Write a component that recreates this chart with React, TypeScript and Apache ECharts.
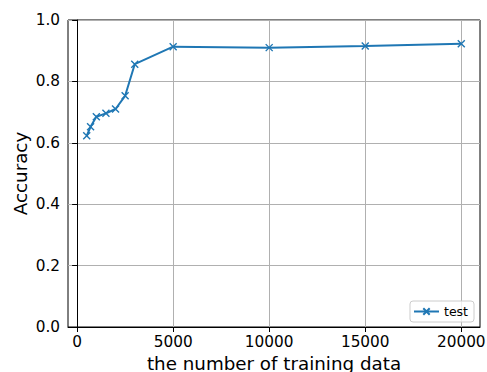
import React, { useEffect, useRef } from "react";
import * as echarts from "echarts";

const trainSizes = [500, 700, 1000, 1500, 2000, 2500, 3000, 5000, 10000, 15000, 20000];
const testAccuracy = [0.623, 0.652, 0.685, 0.696, 0.71, 0.753, 0.856, 0.913, 0.91, 0.915, 0.923];
const xTicks = [0, 5000, 10000, 15000, 20000];

const FONT = "DejaVu Sans";
const X_MARK = "path://M0,0 L10,10 M10,0 L0,10";

export default function App() {
  const ref = useRef<HTMLDivElement>(null);
  useEffect(() => {
    if (!ref.current) return;
    const chart = echarts.init(ref.current, null, { renderer: "svg" });
    chart.setOption({
      animation: false,
      backgroundColor: "#ffffff",
      textStyle: { fontFamily: FONT },
      grid: {
        left: 68, right: 7, top: 20, bottom: 45,
        outerBoundsMode: "none",
        containLabel: false,
        show: true, borderColor: "#000", borderWidth: 1, backgroundColor: "transparent",
      },
      legend: {
        right: 13,
        bottom: 50,
        orient: "vertical",
        data: ["test"],
        backgroundColor: "rgba(255,255,255,0.8)",
        borderColor: "#cccccc",
        borderWidth: 1,
        borderRadius: 3,
        padding: [4, 6, 4, 3],
        itemWidth: 25,
        itemHeight: 8,
        textStyle: { fontFamily: FONT, fontSize: 12.5, color: "#000" },
      },
      xAxis: {
        type: "value",
        min: -475,
        max: 20975,
        name: "the number of training data",
        nameLocation: "middle",
        nameGap: 27,
        nameMoveOverlap: false,
        nameTextStyle: { fontFamily: FONT, fontSize: 18.3, color: "#000" },
        axisLine: { show: true, onZero: false, lineStyle: { color: "#000", width: 1 } },
        axisTick: { show: true, inside: false, length: 5, customValues: xTicks, lineStyle: { color: "#000" } },
        axisLabel: { customValues: xTicks, fontFamily: FONT, fontSize: 15.3, color: "#000", margin: 7, formatter: (v: number) => String(v) },
        splitLine: { show: true, lineStyle: { color: "#b0b0b0", width: 1 } },
      },
      yAxis: {
        type: "value",
        min: 0,
        max: 1,
        interval: 0.2,
        name: "Accuracy",
        nameLocation: "middle",
        nameGap: 39,
        nameMoveOverlap: false,
        nameTextStyle: { fontFamily: FONT, fontSize: 18.3, color: "#000" },
        axisLine: { show: true, lineStyle: { color: "#000", width: 1 } },
        axisTick: { show: true, inside: false, length: 5, lineStyle: { color: "#000" } },
        axisLabel: { fontFamily: FONT, fontSize: 15.3, color: "#000", margin: 8, formatter: (v: number) => v.toFixed(1) },
        splitLine: { show: true, lineStyle: { color: "#b0b0b0", width: 1 } },
      },
      series: [
        {
          name: "test",
          type: "line",
          data: trainSizes.map((x, i) => [x, testAccuracy[i]]),
          symbol: X_MARK,
          symbolSize: 7,
          showAllSymbol: true,
          lineStyle: { color: "#1f77b4", width: 2 },
          itemStyle: { color: "#1f77b4", borderColor: "#1f77b4", borderWidth: 1.4 },
        },
      ],
    });
    return () => chart.dispose();
  }, []);
  return <div ref={ref} style={{ width: 487, height: 372, position: "absolute", left: 0, top: 0 }} />;
}
